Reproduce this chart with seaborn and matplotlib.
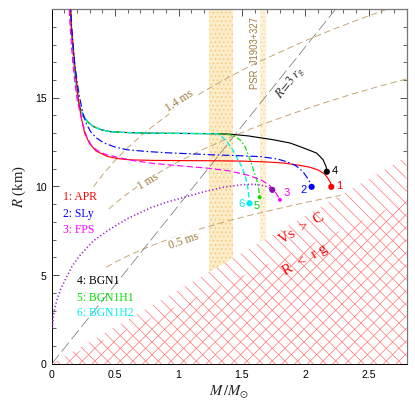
import matplotlib
matplotlib.use("Agg")
import matplotlib.pyplot as plt
import seaborn as sns

# ---------------- data ----------------
apr_M = [0.145, 0.155, 0.168, 0.18, 0.195, 0.21, 0.235, 0.26, 0.30, 0.35, 0.435, 0.52, 0.62, 0.8, 1.0, 1.25,
         1.5, 1.7, 1.83, 1.95, 2.04, 2.10, 2.15, 2.18, 2.20, 2.205]
apr_R = [20.5, 19.0, 18.0, 17.0, 16.0, 14.9, 13.8, 13.0, 12.4, 12.0, 11.7, 11.57, 11.5, 11.47, 11.46, 11.45,
         11.43, 11.38, 11.32, 11.2, 11.08, 10.93, 10.72, 10.45, 10.2, 9.98]

sly_M = [0.145, 0.157, 0.168, 0.18, 0.198, 0.22, 0.245, 0.275, 0.307, 0.35, 0.41, 0.5, 0.594, 0.75, 0.91, 1.1,
         1.25, 1.46, 1.65, 1.78, 1.86, 1.93, 1.98, 2.02, 2.04, 2.05]
sly_R = [20.5, 19.0, 18.0, 17.0, 16.0, 15.0, 14.16, 13.5, 13.09, 12.75, 12.46, 12.22, 12.07, 11.97, 11.9, 11.84,
         11.79, 11.74, 11.68, 11.55, 11.38, 11.15, 10.85, 10.45, 10.2, 9.98]

fps_M = [0.135, 0.145, 0.155, 0.166, 0.18, 0.2, 0.225, 0.25, 0.276, 0.31, 0.355, 0.42, 0.51, 0.65, 0.8, 1.0,
         1.22, 1.4, 1.55, 1.65, 1.72, 1.77, 1.80]
fps_R = [20.5, 19.0, 18.0, 17.0, 16.0, 14.9, 14.1, 13.4, 12.8, 12.35, 12.05, 11.82, 11.66, 11.45, 11.3, 11.17,
         11.04, 10.88, 10.63, 10.38, 10.05, 9.62, 9.25]

bgn_shared_M = [0.145, 0.155, 0.165, 0.175, 0.19, 0.21, 0.23, 0.25, 0.29, 0.33, 0.39, 0.46, 0.55, 0.64, 0.8,
                1.0, 1.2, 1.3]
bgn_shared_R = [20.5, 19.0, 18.0, 17.0, 16.0, 14.8, 14.3, 13.93, 13.6, 13.37, 13.2, 13.09, 13.05, 13.03, 13.0,
                12.99, 12.98, 12.97]

bgn1_M = bgn_shared_M + [1.4, 1.55, 1.75, 1.88, 1.96, 2.04, 2.09, 2.14, 2.165, 2.17]
bgn1_R = bgn_shared_R + [12.95, 12.85, 12.63, 12.45, 12.24, 12.02, 11.88, 11.51, 11.1, 10.83]

bgn1h1_M = bgn_shared_M + [1.38, 1.44, 1.49, 1.525, 1.555, 1.58, 1.60, 1.62, 1.633, 1.64]
bgn1h1_R = bgn_shared_R + [12.95, 12.85, 12.6, 12.24, 11.7, 11.2, 10.75, 10.3, 9.85, 9.39]

bgn1h2_M = bgn_shared_M + [1.34, 1.38, 1.42, 1.46, 1.50, 1.53, 1.55, 1.56]
bgn1h2_R = bgn_shared_R + [12.82, 12.55, 12.15, 11.65, 11.1, 10.5, 9.8, 9.08]

ss_M = [0.005, 0.01, 0.02, 0.04, 0.07, 0.11, 0.16, 0.22, 0.33, 0.45, 0.6, 0.78, 0.9, 1.04, 1.2, 1.35, 1.5,
        1.6, 1.67, 1.71, 1.74]
ss_R = [2.0, 2.5, 3.0, 3.6, 4.2, 4.8, 5.5, 6.1, 6.95, 7.55, 8.2, 8.8, 9.1, 9.38, 9.7, 9.95, 10.1, 10.12,
        10.05, 9.95, 9.81]

# maximum-mass end points: APR, SLy, FPS, BGN1, BGN1H1, BGN1H2, purple curve
end_M = [2.205, 2.05, 1.80, 2.17, 1.64, 1.56, 1.74]
end_R = [9.98, 9.98, 9.25, 10.83, 9.39, 9.05, 9.81]
end_size = [34, 34, 14, 34, 14, 34, 34]
end_labels = ["1", "2", "3", "4", "5", "6", ""]
end_label_M = [2.27, 1.985, 1.85, 2.236, 1.62, 1.50, 0]
end_label_R = [10.04, 9.81, 9.64, 10.89, 8.91, 9.02, 0]

# Keplerian (mass-shedding) period curves
kep14_M = [0.33, 0.4, 0.5, 0.6, 0.7, 0.8, 0.9, 1.0, 1.2, 1.4, 1.6, 1.8, 2.0, 2.2, 2.4, 2.6, 2.7]
kep14_R = [9.99, 10.65, 11.47, 12.19, 12.83, 13.41, 13.95, 14.45, 15.36, 16.17, 16.91, 17.57, 18.21, 18.80,
           19.35, 19.87, 20.12]
kep10_M = [0.45, 0.5, 0.6, 0.7, 0.8, 0.9, 1.0, 1.2, 1.4, 1.6, 1.8, 2.0, 2.2, 2.4, 2.6, 2.8]
kep10_R = [8.73, 9.05, 9.61, 10.12, 10.58, 11.01, 11.4, 12.11, 12.75, 13.33, 13.86, 14.36, 14.83, 15.27,
           15.68, 16.06]
kep05_M = [0.43, 0.5, 0.6, 0.7, 0.8, 0.9, 1.0, 1.2, 1.4, 1.6, 1.8, 2.0, 2.2, 2.4, 2.6, 2.8]
kep05_R = [5.45, 5.73, 6.09, 6.41, 6.70, 6.97, 7.22, 7.67, 8.08, 8.44, 8.77, 9.10, 9.39, 9.67, 9.93, 10.17]

rg3_M = [0.0, 2.24]
rg3_R = [0.0, 20.0]

# forbidden regions
causal_M = [0.0, 2.8]
causal_R = [0.0, 11.68]
buch_R = [0.0, 9.24]

# mass bands
band_wide = [1.24, 1.43]
band_psr = [1.646, 1.688]

eos_labels = ["1: APR", "2: SLy", "3: FPS", "4: BGN1", "5: BGN1H1", "6: BGN1H2"]
eos_label_M = [0.09, 0.09, 0.09, 0.20, 0.20, 0.20]
eos_label_R = [9.42, 8.46, 7.56, 4.68, 3.72, 2.88]

x_ticks = [0, 0.5, 1, 1.5, 2, 2.5]
x_ticklabels = ["0", "0.5", "1", "1.5", "2", "2.5"]
y_ticks = [0, 5, 10, 15]
y_ticklabels = ["0", "5", "10", "15"]

# ---------------- style ----------------
sns.set_theme(style="ticks")
plt.rcParams["font.family"] = ["Liberation Sans", "DejaVu Sans"]
plt.rcParams["mathtext.fontset"] = "stix"
plt.rcParams["hatch.linewidth"] = 0.7
plt.rcParams["lines.scale_dashes"] = False

RED, BLUE, MAG, GRN, CYN, PUR = "#ff0000", "#0000ff", "#ff00ff", "#00e000", "#00f0f0", "#9a1fd6"
KEP = "#c4a470"
KEPTXT = "#9c7a3c"
HATCH = "#ff7a7a"

DPI = 76
fig = plt.figure(figsize=(415.3 / DPI, 415.3 / DPI), dpi=DPI)
ax = fig.add_axes([51.7 / 415, 1 - 364 / 415, (406.4 - 51.7) / 415, (364 - 9.3) / 415])

# bands
ax.axvspan(band_wide[0], band_wide[1], facecolor="#fdecc8", edgecolor="#f7c56a", hatch="...",
           linewidth=0, zorder=1)
ax.axvspan(band_psr[0], band_psr[1], facecolor="#fef3da", edgecolor="#f8d48c", hatch="...",
           linewidth=0, zorder=1)

# reference lines
def line(M, R, color, ls, lw, z):
    sns.lineplot(x=M, y=R, ax=ax, color=color, linestyle=ls, linewidth=lw, sort=False,
                 estimator=None, zorder=z, legend=False)

line(kep14_M, kep14_R, KEP, (0, (6, 3.5)), 0.9, 2)
line(kep10_M, kep10_R, KEP, (0, (6, 3.5)), 0.9, 2)
line(kep05_M, kep05_R, KEP, (0, (6, 3.5)), 0.9, 2)
line(rg3_M, rg3_R, "#777777", (0, (11, 4)), 0.7, 2)

# forbidden regions (white filled, hatched)
ax.fill_between(causal_M, [0, 0], causal_R, facecolor="white", edgecolor=HATCH, hatch="\\\\",
                linewidth=0, zorder=3)
ax.fill_between(causal_M, [0, 0], buch_R, facecolor="none", edgecolor=HATCH, hatch="//",
                linewidth=0, zorder=3.1)

# EOS curves
line(bgn1_M, bgn1_R, "black", "-", 1.1, 4)
line(bgn1h1_M, bgn1h1_R, GRN, (0, (5, 2, 1.5, 2)), 1.1, 4.1)
line(bgn1h2_M, bgn1h2_R, CYN, (0, (5, 2.5)), 1.3, 4.2)
line(apr_M, apr_R, RED, "-", 1.1, 4.3)
line(sly_M, sly_R, BLUE, (0, (7, 2.5, 1.5, 2.5)), 1.1, 4.3)
line(fps_M, fps_R, MAG, (0, (6, 3)), 1.1, 4.3)
line(ss_M, ss_R, PUR, (0, (1.2, 2.2)), 1.5, 4.3)

end_colors = [RED, BLUE, MAG, "black", GRN, CYN, "#8a10b0"]
for m, r, s, c, lab, lm, lr in zip(end_M, end_R, end_size, end_colors, end_labels, end_label_M, end_label_R):
    sns.scatterplot(x=[m], y=[r], ax=ax, color=c, s=s, edgecolor="none", zorder=5, legend=False)
    if lab:
        ax.text(lm, lr, lab, color=c, fontsize=10.5, ha="center", va="center", zorder=6)

# text labels
for t, m, r, c in zip(eos_labels, eos_label_M, eos_label_R, [RED, BLUE, MAG, "black", GRN, CYN]):
    ax.text(m, r, t, color=c, fontsize=11, family=["Liberation Serif"], ha="left", va="center", zorder=6)

bb = dict(facecolor="white", edgecolor="none", pad=0.6)
ax.text(1.01, 14.85, "1.4 ms", color=KEPTXT, fontsize=11, family=["Liberation Serif"], rotation=33,
        ha="center", va="center", zorder=2.5, bbox=bb)
ax.text(0.76, 10.3, "1 ms", color=KEPTXT, fontsize=11, family=["Liberation Serif"], rotation=31,
        ha="center", va="center", zorder=2.5, bbox=bb)
ax.text(1.04, 6.95, "0.5 ms", color=KEPTXT, fontsize=11, family=["Liberation Serif"], rotation=19,
        ha="center", va="center", zorder=2.5, bbox=bb)
ax.text(1.606, 17.54, "PSR  J1903+327", color=KEPTXT, fontsize=9, rotation=90, ha="center",
        va="center", zorder=6)
ax.text(1.88, 15.85, r"$R\!=\!3\,r_{\rm g}$", color="#333333", fontsize=12.5, rotation=51, ha="center",
        va="center", zorder=6)
ax.text(1.97, 7.64, "Vs  >  C", color=RED, fontsize=14, family=["Liberation Serif"], rotation=30,
        ha="center", va="center", zorder=6)
ax.text(2.0, 5.87, "R  <  r g", color=RED, fontsize=14, family=["Liberation Serif"], rotation=30,
        ha="center", va="center", zorder=6)

# axes
ax.set_xlim(0, 2.8)
ax.set_ylim(0, 20)
ax.set_xticks(x_ticks)
ax.set_xticklabels(x_ticklabels)
ax.set_yticks(y_ticks)
ax.set_yticklabels(y_ticklabels)
ax.set_xticks([i / 10 for i in range(0, 29)], minor=True)
ax.set_yticks(list(range(0, 21)), minor=True)
ax.tick_params(which="both", direction="in", top=True, right=True, colors="#333333", labelcolor="black",
               labelsize=10, pad=5)
ax.tick_params(which="major", length=7, width=0.8)
ax.tick_params(which="minor", length=3.5, width=0.7)
for s in ["left", "bottom"]:
    ax.spines[s].set_color("black")
    ax.spines[s].set_linewidth(0.9)
for s in ["top", "right"]:
    ax.spines[s].set_color("#777777")
    ax.spines[s].set_linewidth(1.2)

ax.set_xlabel(r"$M\,/M_{\odot}$", fontsize=14, labelpad=4)
ax.set_ylabel(r"$R$ (km)", fontsize=14, family=["Liberation Serif"], labelpad=6)

fig.savefig("out.png", dpi=DPI, facecolor="white")
